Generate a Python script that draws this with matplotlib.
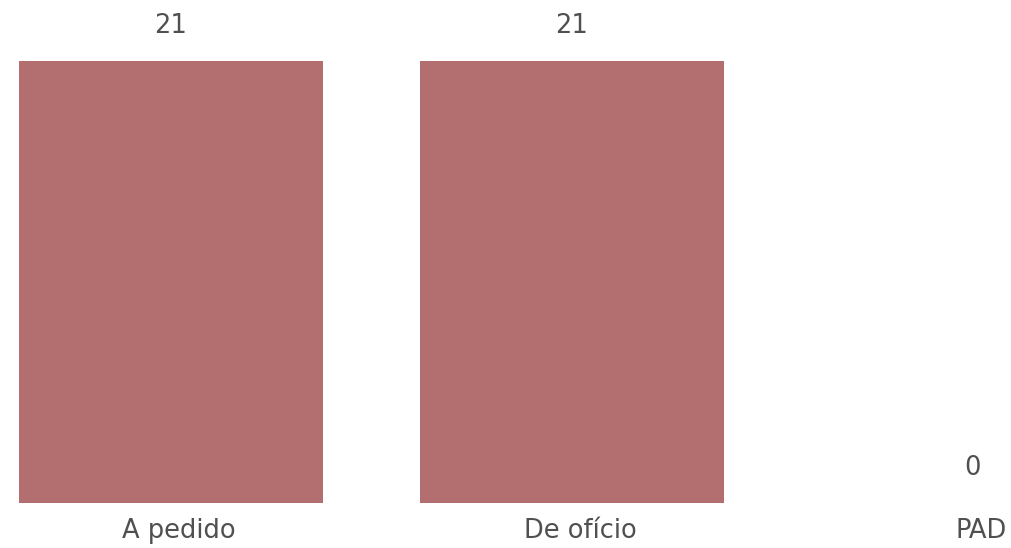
import matplotlib
matplotlib.use("Agg")
import matplotlib.pyplot as plt

categories = ["A pedido", "De ofício", "PAD"]
values = [21, 21, 0]

bar_color = "#B36F6F"
text_color = "#505050"

fig = plt.figure(figsize=(10.12, 5.48), dpi=100)
ax = fig.add_axes([0, 0, 1, 1])
x = list(range(len(categories)))
ax.bar(x, values, width=0.758, color=bar_color)

ax.set_xlim(-171 / 401, (1012 - 171) / 401)
ax.set_ylim(-45 * 21 / 442, 21 + 61 * 21 / 442)

px = 72 / 100  # pixels -> points
for xi, v in zip(x, values):
    ax.annotate(str(v), (xi, v), xytext=(0, 35 * px), textcoords="offset points",
                ha="center", va="center", fontsize=18.5, color=text_color)

for xi, c in zip(x, categories):
    ax.annotate(c, (xi, 0), xytext=(8 * px, -28 * px), textcoords="offset points",
                ha="center", va="center", fontsize=18.5, color=text_color)

ax.axis("off")
fig.savefig("out.png", dpi=100)
